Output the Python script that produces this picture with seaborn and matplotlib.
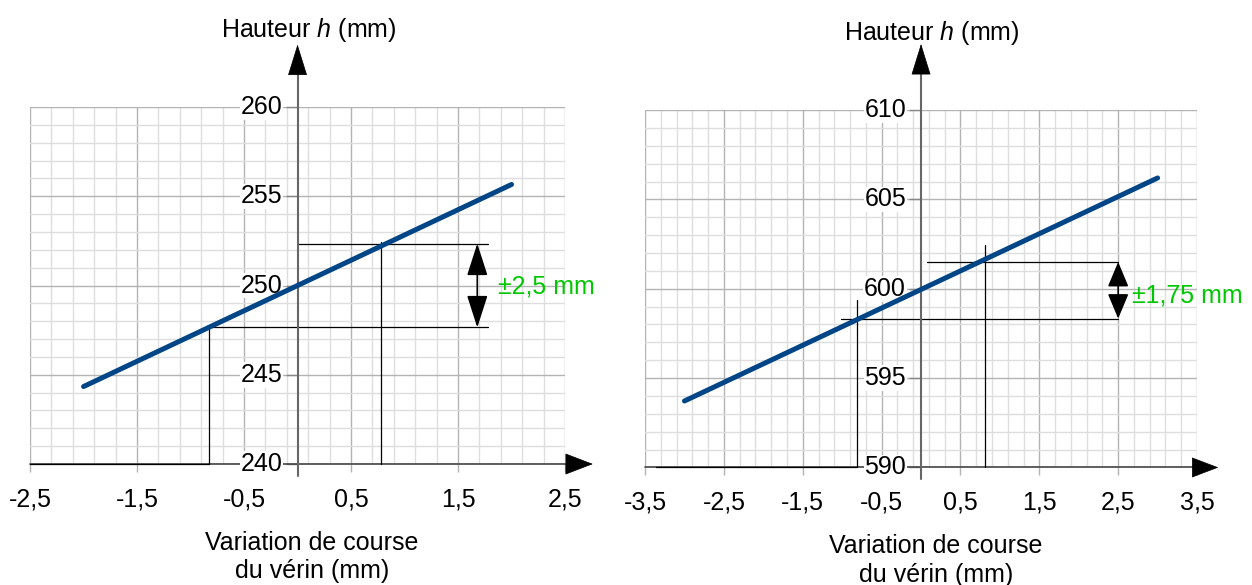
import numpy as np
import matplotlib
matplotlib.use("Agg")
import matplotlib.pyplot as plt
from matplotlib.ticker import FixedLocator, NullFormatter, FixedFormatter
import seaborn as sns

# ---------------- data ----------------
left_x = [-2.0, 2.0]
left_h = [244.34, 255.66]
right_x = [-3.0, 3.0]
right_h = [593.72, 606.20]

left_xticks = [-2.5, -1.5, -0.5, 0.5, 1.5, 2.5]
left_xlabels = ["-2,5", "-1,5", "-0,5", "0,5", "1,5", "2,5"]
left_yticks = [240, 245, 250, 255, 260]
left_ylabels = ["240", "245", "250", "255", "260"]

right_xticks = [-3.5, -2.5, -1.5, -0.5, 0.5, 1.5, 2.5, 3.5]
right_xlabels = ["-3,5", "-2,5", "-1,5", "-0,5", "0,5", "1,5", "2,5", "3,5"]
right_yticks = [590, 595, 600, 605, 610]
right_ylabels = ["590", "595", "600", "605", "610"]

# projection construction (x, h) points
left_up = (0.78, 252.35)
left_low = (-0.83, 247.65)
left_hline_end = 1.78
left_up_hstart = 0.0
left_tol_x = 1.68
left_tol_text = "±2,5 mm"

right_up = (0.81, 601.50)
right_low = (-0.81, 598.33)
right_hline_end = 2.5
right_up_hstart = 0.076
right_low_hstart = -1.02
right_tol_x = 2.5
right_tol_text = "±1,75 mm"

# ---------------- style ----------------
sns.set_theme(style="white")
FONT = ["Liberation Sans", "DejaVu Sans"]
plt.rcParams["font.family"] = FONT
plt.rcParams["text.color"] = "black"
plt.rcParams["mathtext.fontset"] = "custom"
plt.rcParams["mathtext.rm"] = "Liberation Sans"
plt.rcParams["mathtext.it"] = "Liberation Sans:italic"
FS = 18
BLUE = "#004586"
GREEN = "#00c800"
MAJ = "#b3b3b3"
MIN = "#dedede"
PT = 72.0 / 100.0  # points per pixel

fig = plt.figure(figsize=(12.52, 5.85), dpi=100)
axL = fig.add_axes([0.024, 0.2068, 0.4273, 0.6103])
axR = fig.add_axes([0.5152, 0.2009, 0.4409, 0.6110])


def arrow_head(ax, base, tip, hl_px, hw_px):
    ax.annotate("", xy=tip, xytext=base,
                arrowprops=dict(arrowstyle="-|>,head_length=%.2f,head_width=%.2f"
                                % (hl_px * PT, hw_px * PT),
                                mutation_scale=1, color="black", lw=0.5,
                                shrinkA=0, shrinkB=0),
                annotation_clip=False, zorder=4)


def panel(ax, xs, hs, xticks, xlabels, yticks, ylabels, up, low, up_hstart,
          low_hstart, hend, tol_x, tol_text, tol_text_pos, bottom_start,
          xarrow, yarrow, tol_hl, x_hl, x_hw, text_dy):
    xmin, xmax = xticks[0], xticks[-1]
    ymin, ymax = yticks[0], yticks[-1]
    ax.set_xlim(xmin, xmax)
    ax.set_ylim(ymin, ymax)
    ax.xaxis.set_major_locator(FixedLocator(xticks))
    ax.xaxis.set_major_formatter(FixedFormatter(xlabels))
    ax.xaxis.set_minor_locator(FixedLocator(np.round(np.arange(xmin, xmax + 1e-6, 0.2), 3)))
    ax.yaxis.set_major_locator(FixedLocator(yticks))
    ax.yaxis.set_minor_locator(FixedLocator(np.arange(ymin, ymax + 1, 1)))
    ax.yaxis.set_major_formatter(NullFormatter())
    ax.grid(which="major", color=MAJ, lw=1.0)
    ax.grid(which="minor", color=MIN, lw=1.0)
    for s in ax.spines.values():
        s.set_visible(False)
    ax.spines["left"].set_position(("data", 0))
    ax.tick_params(axis="x", which="major", direction="out", length=8 * PT,
                   width=1, color=MAJ, pad=11, labelsize=FS, labelcolor="black",
                   bottom=True)
    ax.tick_params(axis="y", which="major", direction="out", length=12 * PT,
                   width=1, color="#888888", left=True, labelleft=False)
    ax.tick_params(which="minor", length=0)
    ax.set_xlabel("")
    ax.set_ylabel("")

    # y tick labels next to the vertical axis
    for yv, lab in zip(yticks, ylabels):
        ax.annotate(lab, xy=(0, yv), xytext=(-15, 0), textcoords="offset pixels",
                    ha="right", va="center", fontsize=FS, color="black",
                    bbox=dict(facecolor="white", edgecolor="none", pad=0.5),
                    zorder=2.5, annotation_clip=False)

    # projection lines
    kw = dict(color="black", lw=0.9, zorder=2, clip_on=False)
    ax.plot([up_hstart, hend], [up[1], up[1]], **kw)
    ax.plot([low_hstart, hend], [low[1], low[1]], **kw)
    ax.plot([up[0], up[0]], [ymin, up[1] + text_dy[0]], **kw)
    ax.plot([low[0], low[0]], [ymin, low[1] + text_dy[1]], **kw)
    ax.plot([bottom_start, low[0]], [ymin, ymin], **kw)

    # x axis with arrow
    ax.plot([xmin, xarrow[0]], [ymin, ymin], color="#444444", lw=1.2,
            zorder=1.9, clip_on=False)
    arrow_head(ax, (xarrow[0], ymin), (xarrow[1], ymin), x_hl, x_hw)
    # y axis with arrow
    ax.plot([0, 0], [ymin - 0.65, yarrow[0]], color="#666666", lw=1.5,
            zorder=2, clip_on=False)
    arrow_head(ax, (0, yarrow[0]), (0, yarrow[1]), 29, 9)

    # tolerance double arrow
    ax.annotate("", xy=(tol_x, up[1]), xytext=(tol_x, low[1]),
                arrowprops=dict(arrowstyle="<|-|>,head_length=%.2f,head_width=%.2f"
                                % (tol_hl * PT, 9 * PT), mutation_scale=1,
                                color="black", lw=1.2, shrinkA=0, shrinkB=0),
                zorder=4)
    ax.text(tol_text_pos[0], tol_text_pos[1], tol_text, color=GREEN,
            fontsize=FS, ha="left", va="baseline", zorder=4)

    # main line
    sns.lineplot(x=xs, y=hs, ax=ax, color=BLUE, lw=3.6, zorder=3)

    # titles
    ax.annotate("Hauteur $h$ (mm)", xy=(0, 1), xycoords=("data", "axes fraction"),
                xytext=(11, 77), textcoords="offset pixels", ha="center",
                va="center", fontsize=FS, color="black", annotation_clip=False)
    ax.annotate("Variation de course\ndu vérin (mm)", xy=(0.527, 0),
                xycoords="axes fraction", xytext=(0, -93),
                textcoords="offset pixels", ha="center", va="center",
                fontsize=FS, color="black", linespacing=1.25,
                annotation_clip=False)


panel(axL, left_x, left_h, left_xticks, left_xlabels, left_yticks, left_ylabels,
      left_up, left_low, left_up_hstart, left_low[0], left_hline_end,
      left_tol_x, left_tol_text, (1.874, 249.55), -2.5,
      (2.52, 2.76), (261.9, 263.5), 28, 26, 10, (0.1, 0.0))
panel(axR, right_x, right_h, right_xticks, right_xlabels, right_yticks, right_ylabels,
      right_up, right_low, right_up_hstart, right_low_hstart, right_hline_end,
      right_tol_x, right_tol_text, (2.675, 599.25), -3.36,
      (3.45, 3.77), (612.1, 613.7), 21.5, 25, 9.5, (0.93, 1.03))

fig.savefig("out.png", dpi=100)
